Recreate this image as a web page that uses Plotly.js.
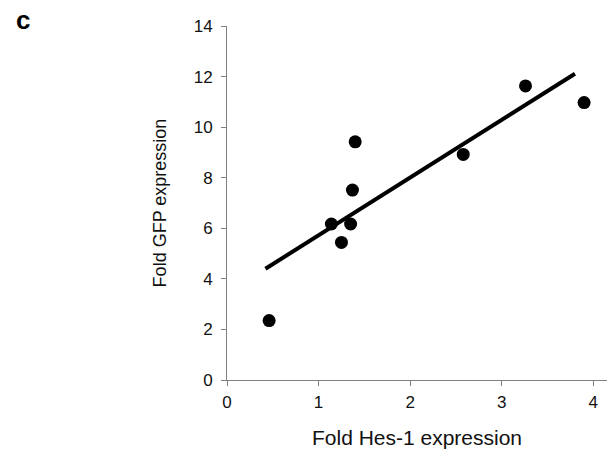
<!DOCTYPE html>
<html>
<head>
<meta charset="utf-8">
<script src="https://cdn.plot.ly/plotly-3.0.1.min.js"></script>
<style>html,body{margin:0;padding:0;background:#fff;}#chart{width:607px;height:454px;}</style>
</head>
<body>
<div id="chart"></div>
<script>
// Data
const hesFold = [0.46, 1.14, 1.25, 1.35, 1.37, 1.40, 2.58, 3.26, 3.90];
const gfpFold = [2.35, 6.17, 5.44, 6.17, 7.51, 9.42, 8.92, 11.63, 10.97];
const trendX = [0.42, 3.80];
const trendY = [4.40, 12.11];
const xTicks = [0, 1, 2, 3, 4];
const yTicks = [0, 2, 4, 6, 8, 10, 12, 14];

const traces = [
  {x: trendX, y: trendY, mode: 'lines', type: 'scatter',
   line: {color: '#000', width: 4}, hoverinfo: 'skip'},
  {x: hesFold, y: gfpFold, mode: 'markers', type: 'scatter',
   marker: {color: '#000', size: 13}}
];

const tickFont = {family: 'Liberation Sans, Arial, sans-serif', size: 17, color: '#111'};
const layout = {
  width: 607, height: 454,
  margin: {l: 227, r: 0, t: 26, b: 74, pad: 0},
  paper_bgcolor: '#fff', plot_bgcolor: '#fff',
  showlegend: false,
  font: {family: 'Liberation Sans, Arial, sans-serif', color: '#111'},
  xaxis: {
    range: [0, 4.15], tickvals: xTicks, ticktext: xTicks.map(String),
    showgrid: false, zeroline: false, showline: true, linecolor: '#808080', linewidth: 1,
    ticks: 'outside', ticklen: 5, tickcolor: '#808080', tickfont: tickFont,
    ticklabelstandoff: 2,
    title: {text: 'Fold Hes-1 expression', font: {size: 21, color: '#111'}, standoff: 18}
  },
  yaxis: {
    range: [0, 14], tickvals: yTicks, ticktext: yTicks.map(String),
    showgrid: false, zeroline: false, showline: true, linecolor: '#808080', linewidth: 1,
    ticks: 'outside', ticklen: 5, tickcolor: '#808080', tickfont: tickFont,
    ticklabelstandoff: 5,
    title: {text: 'Fold GFP expression', font: {size: 18, color: '#111'}, standoff: 22}
  },
  annotations: [
    {text: '<b>c</b>', xref: 'paper', yref: 'paper', x: -0.56, y: 1.017,
     xanchor: 'left', yanchor: 'middle', showarrow: false,
     font: {family: 'Liberation Sans, Arial, sans-serif', size: 26, color: '#000'}}
  ]
};

Plotly.newPlot('chart', traces, layout, {displayModeBar: false, staticPlot: true});
</script>
</body>
</html>
